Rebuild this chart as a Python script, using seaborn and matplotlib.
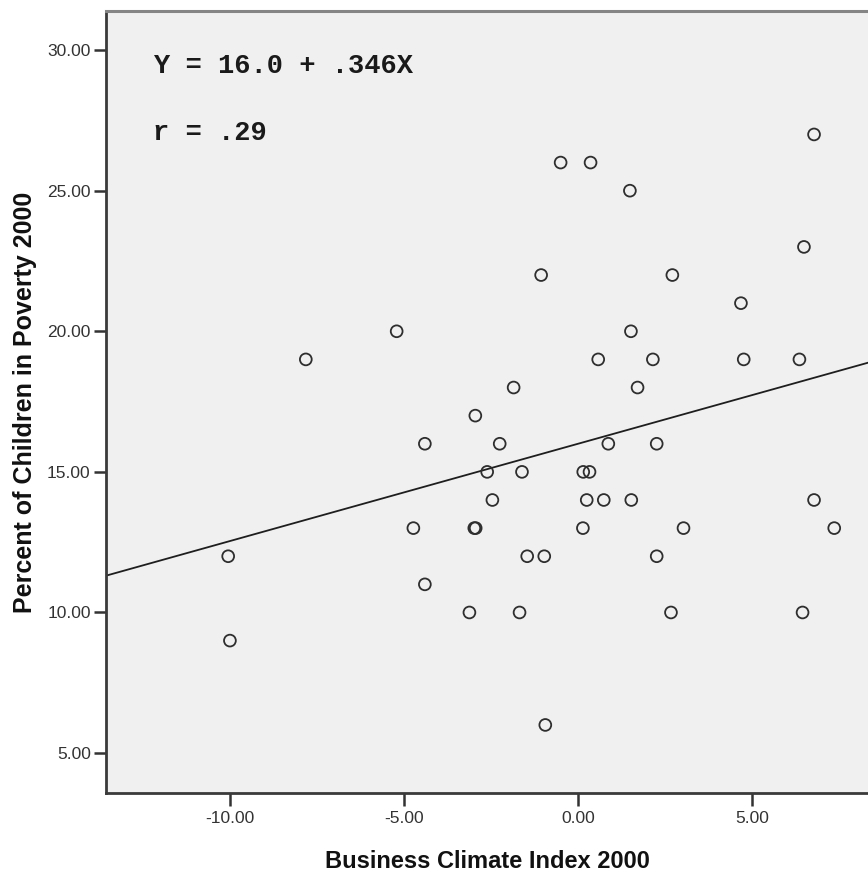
import numpy as np
import pandas as pd
import matplotlib
matplotlib.use("Agg")
import matplotlib.pyplot as plt
from matplotlib.ticker import FormatStrFormatter
import seaborn as sns

# Business Climate Index 2000 (x) vs Percent of Children in Poverty 2000 (y)
climate_index = [6.78, -0.50, 0.36, 1.49, 6.49, -1.06, 2.71, 4.68, -5.21, 1.52,
                 -7.82, 0.58, 2.15, 4.76, 6.36, -1.85, 1.71, -2.95, -4.40, -2.25,
                 0.87, 2.26, -2.61, -1.61, 0.15, 0.33, -2.46, 0.25, 0.74, 1.53,
                 6.78, -4.73, -2.98, -2.94, 0.14, 3.03, 7.36, -10.05, -1.46, -0.97,
                 2.26, -4.40, -3.12, -1.68, 2.67, 6.45, -10.00, -0.94]
child_poverty = [27, 26, 26, 25, 23, 22, 22, 21, 20, 20,
                 19, 19, 19, 19, 19, 18, 18, 17, 16, 16,
                 16, 16, 15, 15, 15, 15, 14, 14, 14, 14,
                 14, 13, 13, 13, 13, 13, 13, 12, 12, 12,
                 12, 11, 10, 10, 10, 10, 9, 6]

# fit line as reported on the chart
intercept = 16.0
slope = 0.346
r_value = ".29"

x_ticks = [-10, -5, 0, 5]
y_ticks = [5, 10, 15, 20, 25, 30]

df = pd.DataFrame({"x": climate_index, "y": child_poverty})

sns.set_style("white")
plt.rcParams["font.family"] = ["Liberation Sans", "DejaVu Sans"]

fig = plt.figure(figsize=(8.68, 8.72), dpi=100)
ax = fig.add_axes([106 / 868, 1 - 793 / 872, 1 - 106 / 868, (793 - 11) / 872])
ax.set_facecolor("#f0f0f0")

sns.scatterplot(data=df, x="x", y="y", ax=ax, marker="o", s=72,
                facecolor="none", edgecolor="#2e2e2e", linewidth=1.3, zorder=3)

ax.set_xlim(-13.56, 8.33)
ax.set_ylim(3.58, 31.39)

xs = np.array(ax.get_xlim())
ax.plot(xs, intercept + slope * xs, color="#1e1e1e", lw=1.3, zorder=2)

ax.set_xticks(x_ticks)
ax.set_yticks(y_ticks)
ax.xaxis.set_major_formatter(FormatStrFormatter("%.2f"))
ax.yaxis.set_major_formatter(FormatStrFormatter("%.2f"))
ax.tick_params(axis="both", direction="out", length=9, width=1.8,
               color="#333333", labelsize=12.5, labelcolor="#333333", pad=2,
               bottom=True, left=True, top=False, right=False)
ax.tick_params(axis="x", pad=4)

for side in ["left", "bottom"]:
    ax.spines[side].set_color("#3a3a3a")
    ax.spines[side].set_linewidth(2)
ax.spines["top"].set_color("#858585")
ax.spines["top"].set_linewidth(2.2)
ax.spines["right"].set_visible(False)

ax.set_xlabel("Business Climate Index 2000", fontsize=17, fontweight="bold",
              color="#111111", labelpad=17)
ax.set_ylabel("Percent of Children in Poverty 2000", fontsize=18,
              fontweight="bold", color="#111111", labelpad=7)

ax.text(0.0617, 0.9297, f"Y = {intercept:.1f} + {str(slope)[1:]}X",
        transform=ax.transAxes, ha="left", va="center",
        family="Liberation Mono", fontweight="bold", fontsize=19.5, color="#1a1a1a")
ax.text(0.0617, 0.844, f"r = {r_value}", transform=ax.transAxes,
        ha="left", va="center", family="Liberation Mono", fontweight="bold",
        fontsize=19.5, color="#1a1a1a")

fig.savefig("out.png", dpi=100, facecolor="white")
